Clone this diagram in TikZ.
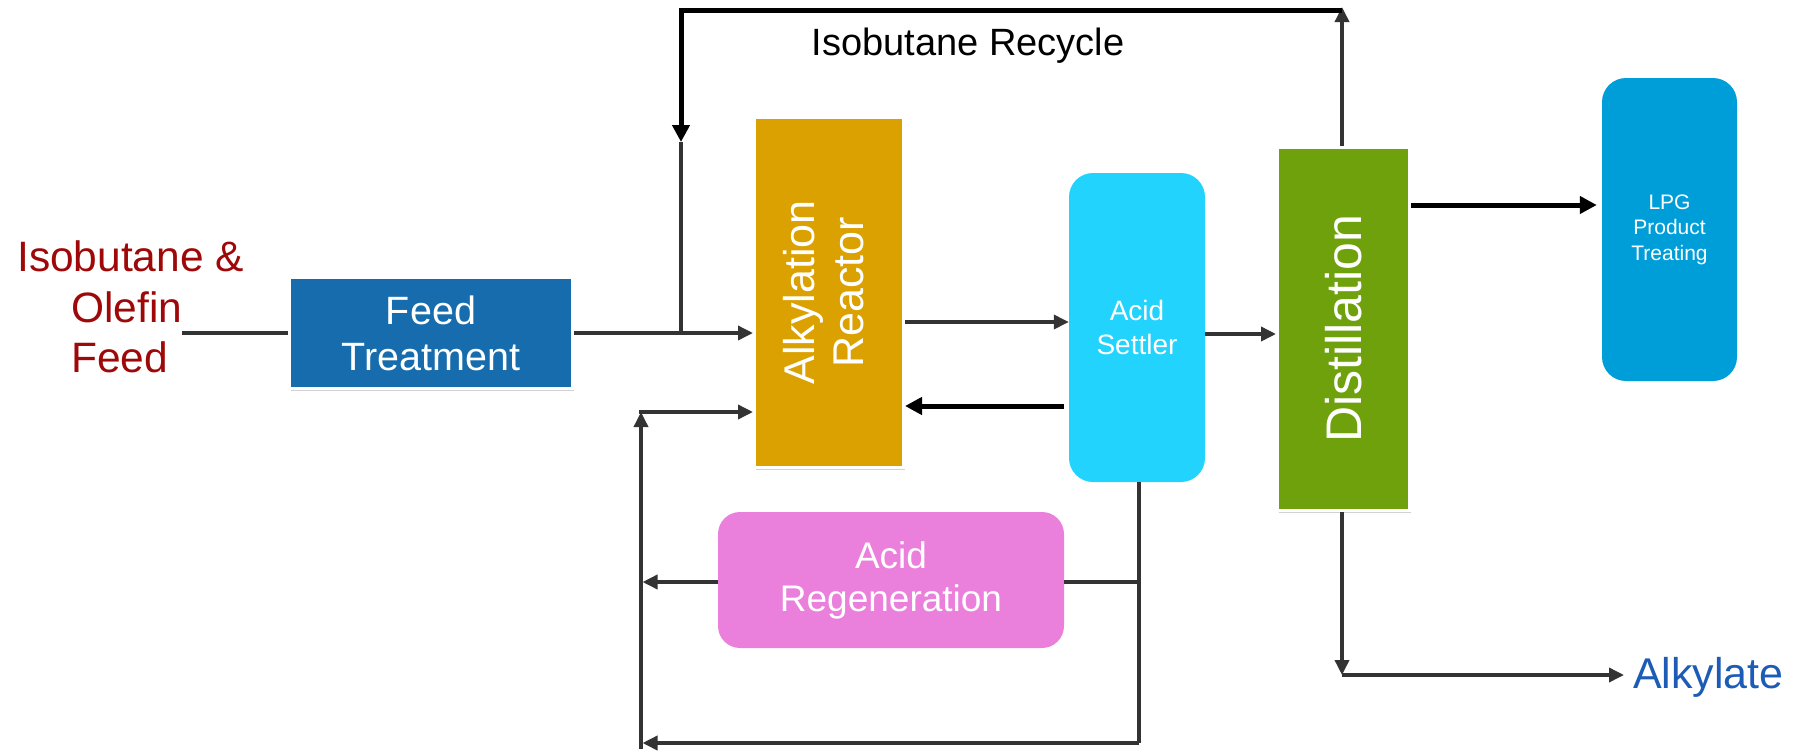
\documentclass[tikz,border=0pt]{standalone}
\usepackage{fontspec}
\usepackage{graphicx}
\setmainfont{Liberation Sans}
\usetikzlibrary{arrows.meta,shadows}

\definecolor{feedred}{RGB}{158,8,8}
\definecolor{alkyblue}{RGB}{28,92,182}
\definecolor{linegray}{RGB}{51,51,51}
\definecolor{feedblue}{RGB}{22,108,172}
\definecolor{reactgold}{RGB}{219,161,0}
\definecolor{settlecyan}{RGB}{34,211,253}
\definecolor{distgreen}{RGB}{110,161,12}
\definecolor{lpgblue}{RGB}{0,158,217}
\definecolor{regenpink}{RGB}{235,127,220}

\begin{document}
\begin{tikzpicture}[x=1pt,y=-1pt,
  pipe/.style={draw=linegray, line width=3.5pt},
  heavy/.style={draw=black, line width=5pt},
  tip/.style={-{Triangle[length=15pt,width=14pt]}},
  bigtip/.style={-{Triangle[length=17pt,width=17pt]}},
  unitbox/.style={fill=#1, draw=white, line width=3pt, inner sep=0pt,
    text=white, align=center,
    drop shadow={shadow xshift=1.5pt, shadow yshift=-2pt, fill=black!70, opacity=0.25}},
  roundbox/.style={fill=#1, rounded corners=24pt, inner sep=0pt,
    text=white, align=center},
  feedlabel/.style={text=feedred, inner sep=0pt, anchor=base west,
    font=\fontsize{42.5}{50}\selectfont},
]
\useasboundingbox (0,0) rectangle (1794,750);

% feed description
\node[feedlabel] (feedA) at (17,271) {Isobutane \&};
\node[feedlabel] (feedB) at (71,322) {Olefin};
\node[feedlabel] (feedC) at (71,372) {Feed};

% process units
\node[unitbox=feedblue, minimum width=283, minimum height=111,
      font=\fontsize{39.5}{46}\selectfont] (feed) at (431,333) {Feed\\Treatment};
\node[unitbox=reactgold, minimum width=149, minimum height=350,
      font=\fontsize{43}{49}\selectfont] (alk) at (829,292.5)
      {\rotatebox{90}{\begin{tabular}{@{}c@{}}Alkylation\\Reactor\end{tabular}}};
\node[roundbox=settlecyan, minimum width=136, minimum height=309,
      font=\fontsize{28}{34}\selectfont] (settler) at (1137,327.5) {Acid\\Settler};
\node[unitbox=distgreen, minimum width=132, minimum height=363,
      font=\fontsize{50}{56}\selectfont] (distill) at (1343.5,329)
      {\rotatebox{90}{Distillation}};
\node[roundbox=lpgblue, minimum width=135, minimum height=303,
      font=\fontsize{21}{25.5}\selectfont] (lpg) at (1669.5,229.5)
      {LPG\\Product\\Treating};
\node[roundbox=regenpink, rounded corners=22pt, minimum width=346, minimum height=136,
      font=\fontsize{37}{43}\selectfont] (regen) at (891,580) {Acid\\Regeneration};

% stream labels
\node[inner sep=0pt, anchor=base, font=\fontsize{38}{44}\selectfont]
      (recyc) at (968,55) {Isobutane Recycle};
\node[inner sep=0pt, anchor=base west, text=alkyblue, font=\fontsize{43}{50}\selectfont]
      (alky) at (1633,688) {Alkylate};

% routing points
\coordinate (inlet) at (182,333);
\coordinate (rtop) at (1342,10);
\coordinate (ltop) at (681,10);
\coordinate (rmid) at (681,142);
\coordinate (ljoin) at (681,333);
\coordinate (dbot) at (1342,675);
\coordinate (sreg) at (1139,582);
\coordinate (sbot) at (1139,743);
\coordinate (lbot) at (641,743);
\coordinate (lfoot) at (641,749);
\coordinate (lreg) at (641,582);
\coordinate (lup) at (641,412);

% feed line
\draw[pipe] (inlet) -- (feed.west |- inlet);
\draw[pipe, tip] (feed.east |- inlet) -- (alk.west |- inlet);

% isobutane recycle loop
\draw[pipe, tip] (rtop |- distill.north) -- ([yshift=3pt]rtop);
\draw[heavy, bigtip] (rtop) -- (ltop) -- (rmid);
\draw[pipe] (rmid) -- (ljoin);

% reactor / settler streams
\draw[pipe, tip] (alk.east |- 0,322) -- (settler.west |- 0,322);
\draw[heavy, bigtip, shorten <=5pt] (settler.west |- 0,406) -- (alk.east |- 0,406);
\draw[pipe, tip] (settler.east |- 0,334) -- (distill.west |- 0,334);

% distillation products
\draw[heavy, bigtip, shorten >=5pt] (distill.east |- 0,205) -- (lpg.west |- 0,205);
\draw[pipe, tip] (rtop |- distill.south) -- (dbot);
\draw[pipe, tip, shorten >=9pt] (dbot) -- (alky.west |- dbot);

% acid circulation
\draw[pipe] (settler.south -| sbot) -- (sbot);
\draw[pipe, tip] (sbot) -- ([xshift=1.5pt]lbot);
\draw[pipe] (sreg) -- (regen.east |- sreg);
\draw[pipe, tip] (regen.west |- sreg) -- ([xshift=1.5pt]lreg);
\draw[pipe, tip] (lfoot) -- (lup);
\draw[pipe, tip] ([xshift=-1.75pt]lup) -- (alk.west |- lup);
\end{tikzpicture}
\end{document}
